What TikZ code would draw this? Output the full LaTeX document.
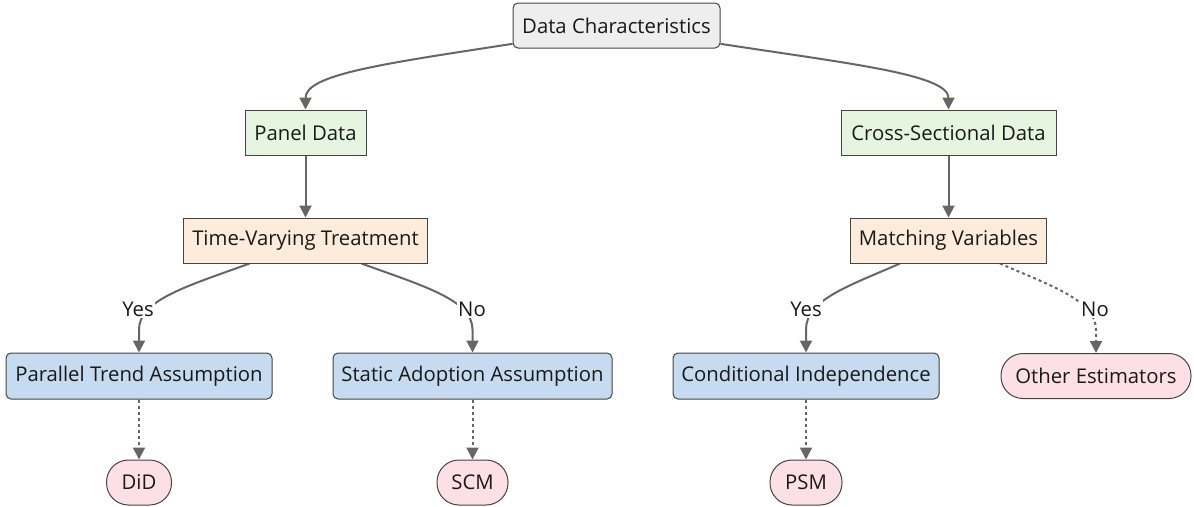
\documentclass[tikz,border=0pt]{standalone}
\usepackage{fontspec}
\setmainfont{Open Sans}
\usetikzlibrary{arrows.meta}
\pgfdeclarelayer{edges}
\pgfsetlayers{edges,main}
\definecolor{edgec}{HTML}{666666}
\definecolor{borderc}{HTML}{444444}
\definecolor{greyf}{HTML}{EEEEEE}
\definecolor{greenf}{HTML}{E5F5E0}
\definecolor{peachf}{HTML}{FDEBDC}
\definecolor{bluef}{HTML}{C6DBEF}
\definecolor{pinkf}{HTML}{FDE0E6}
\tikzset{
  base/.style={draw=borderc, line width=1pt, inner sep=0pt, minimum height=45pt,
    font=\fontsize{20.3}{24}\selectfont, text=black!90, align=center},
  rootbox/.style={base, fill=greyf, rounded corners=5pt},
  databox/.style={base, fill=greenf},
  qbox/.style={base, fill=peachf},
  abox/.style={base, fill=bluef, rounded corners=5pt, minimum height=46pt},
  ebox/.style={base, fill=pinkf, rounded corners=22pt},
  lbl/.style={fill=white, inner sep=1.5pt, font=\fontsize{20.3}{24}\selectfont, text=black!90},
  conn/.style={draw=edgec, line width=2pt, -{Triangle[length=12pt,width=12pt]}},
  dconn/.style={conn, dash pattern=on 3pt off 3pt},
}
\begin{document}
\begin{tikzpicture}[x=1pt,y=1pt]
\useasboundingbox (0,0) rectangle (1194,-506);
% nodes
\node[rootbox, minimum width=207pt] (dc) at (616.5,-25.5) {Data Characteristics};
\node[databox, minimum width=121pt] (pd) at (305.5,-132.5) {Panel Data};
\node[databox, minimum width=215pt] (csd) at (948.5,-132.5) {Cross-Sectional Data};
\node[qbox, minimum width=244pt] (tvt) at (305.5,-240.5) {Time-Varying Treatment};
\node[qbox, minimum width=196pt] (mv) at (948.5,-240.5) {Matching Variables};
\node[abox, minimum width=266pt] (pta) at (139,-376) {Parallel Trend Assumption};
\node[abox, minimum width=279pt] (saa) at (472.5,-376) {Static Adoption Assumption};
\node[abox, minimum width=266pt] (ci) at (806,-376) {Conditional Independence};
\node[ebox, minimum width=190pt] (oe) at (1096,-376) {Other Estimators};
\node[ebox, minimum width=65pt] (did) at (139,-482.5) {DiD};
\node[ebox, minimum width=71pt] (scm) at (472.5,-482.5) {SCM};
\node[ebox, minimum width=72pt] (psm) at (806,-482.5) {PSM};
% edge labels
\node[lbl] (ly1) at (138,-309) {Yes};
\node[lbl] (ln1) at (472,-309) {No};
\node[lbl] (ly2) at (806,-309) {Yes};
\node[lbl] (ln2) at (1095,-309) {No};
% edges
\begin{pgfonlayer}{edges}
\draw[conn] (dc.190) .. controls +(-130,-20) and +(0,35) .. (pd.north);
\draw[conn] (dc.350) .. controls +(130,-20) and +(0,35) .. (csd.north);
\draw[conn] (pd.south) -- (tvt.north);
\draw[conn] (csd.south) -- (mv.north);
\draw[conn] ([xshift=-56pt]tvt.south) .. controls +(-60,-22) and +(0,30) .. ([yshift=23pt]pta.north) -- (pta.north);
\draw[conn] ([xshift=56pt]tvt.south) .. controls +(60,-22) and +(0,30) .. ([yshift=23pt]saa.north) -- (saa.north);
\draw[conn] ([xshift=-48.5pt]mv.south) .. controls +(-50,-22) and +(0,30) .. ([yshift=23pt]ci.north) -- (ci.north);
\draw[dconn] ([xshift=51.5pt]mv.south) .. controls +(50,-22) and +(0,30) .. ([yshift=23pt]oe.north) -- (oe.north);
\draw[dconn] (pta.south) -- (did.north);
\draw[dconn] (saa.south) -- (scm.north);
\draw[dconn] (ci.south) -- (psm.north);
\end{pgfonlayer}
\end{tikzpicture}
\end{document}
